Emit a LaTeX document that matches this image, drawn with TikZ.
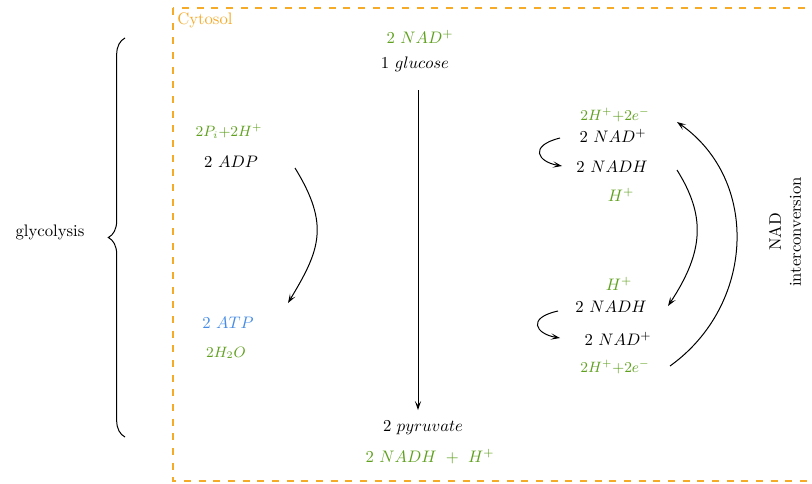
\documentclass[tikz,border=0pt]{standalone}
\usetikzlibrary{decorations.pathreplacing,arrows.meta}
\definecolor{cgreen}{RGB}{95,160,30}
\definecolor{cblue}{RGB}{70,140,230}
\definecolor{corange}{RGB}{245,170,40}
\begin{document}
\begin{tikzpicture}[x=0.6pt,y=-0.6pt,
  lbl/.style={inner sep=1pt},
  gr/.style={lbl,text=cgreen},
  grs/.style={lbl,text=cgreen,font=\small},
  arr/.style={-{Stealth[length=5.5pt,width=3.8pt,inset=2.6pt]},line width=0.6pt}]
\useasboundingbox (0,0) rectangle (812,483);
\draw[corange,line width=0.8pt,dash pattern=on 4.2pt off 4.6pt] (173,8) rectangle (830,481);
\node[anchor=north west,text=corange,inner sep=0pt] (cyt) at (177,12) {Cytosol};
% centre column
\node[gr] (nadtop) at (420,37) {$2\ NAD^+$};
\node[lbl] (glc) at (415,64) {$1\ glucose$};
\node[lbl] (pyr) at (423,428) {$2\ pyruvate$};
\node[gr] (nadhbot) at (430,457) {$2\ NADH\ +\ H^+$};
\coordinate (vtop) at (418,90);
\coordinate (vbot) at (418,410);
\draw[arr] (vtop) -- (vbot);
% left column
\node[grs] (pi) at (229,131) {$2P_i{+}2H^+$};
\node[lbl] (adp) at (231,162) {$2\ ADP$};
\node[lbl,text=cblue] (atp) at (228,323) {$2\ ATP$};
\node[grs] (h2o) at (226,353) {$2H_2O$};
\coordinate (la) at (295,168);
\coordinate (lb) at (288,303);
\draw[arr] (la) .. controls (330,225) and (320,250) .. (lb);
% right top
\node[grs] (he1) at (615,115) {$2H^+{+}2e^-$};
\node[lbl] (nad1) at (613,136) {$2\ NAD^+$};
\node[lbl] (nadh1) at (612,167) {$2\ NADH$};
\node[gr] (h1) at (621,195) {$H^+$};
\coordinate (s1a) at (560,138);
\coordinate (s1b) at (562,166);
\draw[arr] (s1a) .. controls (528,146) and (538,162) .. (s1b);
% right bottom
\node[gr] (h2) at (619,284) {$H^+$};
\node[lbl] (nadh2) at (611,307) {$2\ NADH$};
\node[lbl] (nad2) at (618,339) {$2\ NAD^+$};
\node[grs] (he2) at (615,367) {$2H^+{+}2e^-$};
\coordinate (s2a) at (558,311);
\coordinate (s2b) at (560,338);
\draw[arr] (s2a) .. controls (526,318) and (536,334) .. (s2b);
% arcs
\coordinate (ia) at (677,170);
\coordinate (ib) at (668,306);
\draw[arr] (ia) .. controls (705,215) and (705,250) .. (ib);
\coordinate (oa) at (670,366);
\coordinate (ob) at (677,122);
\draw[arr] (oa) .. controls (755,305) and (760,180) .. (ob);
\node[rotate=90,align=center,inner sep=0pt] (nadint) at (785,232) {NAD\\interconversion};
% glycolysis brace
\node[lbl] (gly) at (50,232) {glycolysis};
\coordinate (bb) at (125,437);
\coordinate (bt) at (125,38);
\draw[line width=0.6pt,decorate,decoration={brace,amplitude=10pt}] (bb) -- (bt);
\end{tikzpicture}
\end{document}
